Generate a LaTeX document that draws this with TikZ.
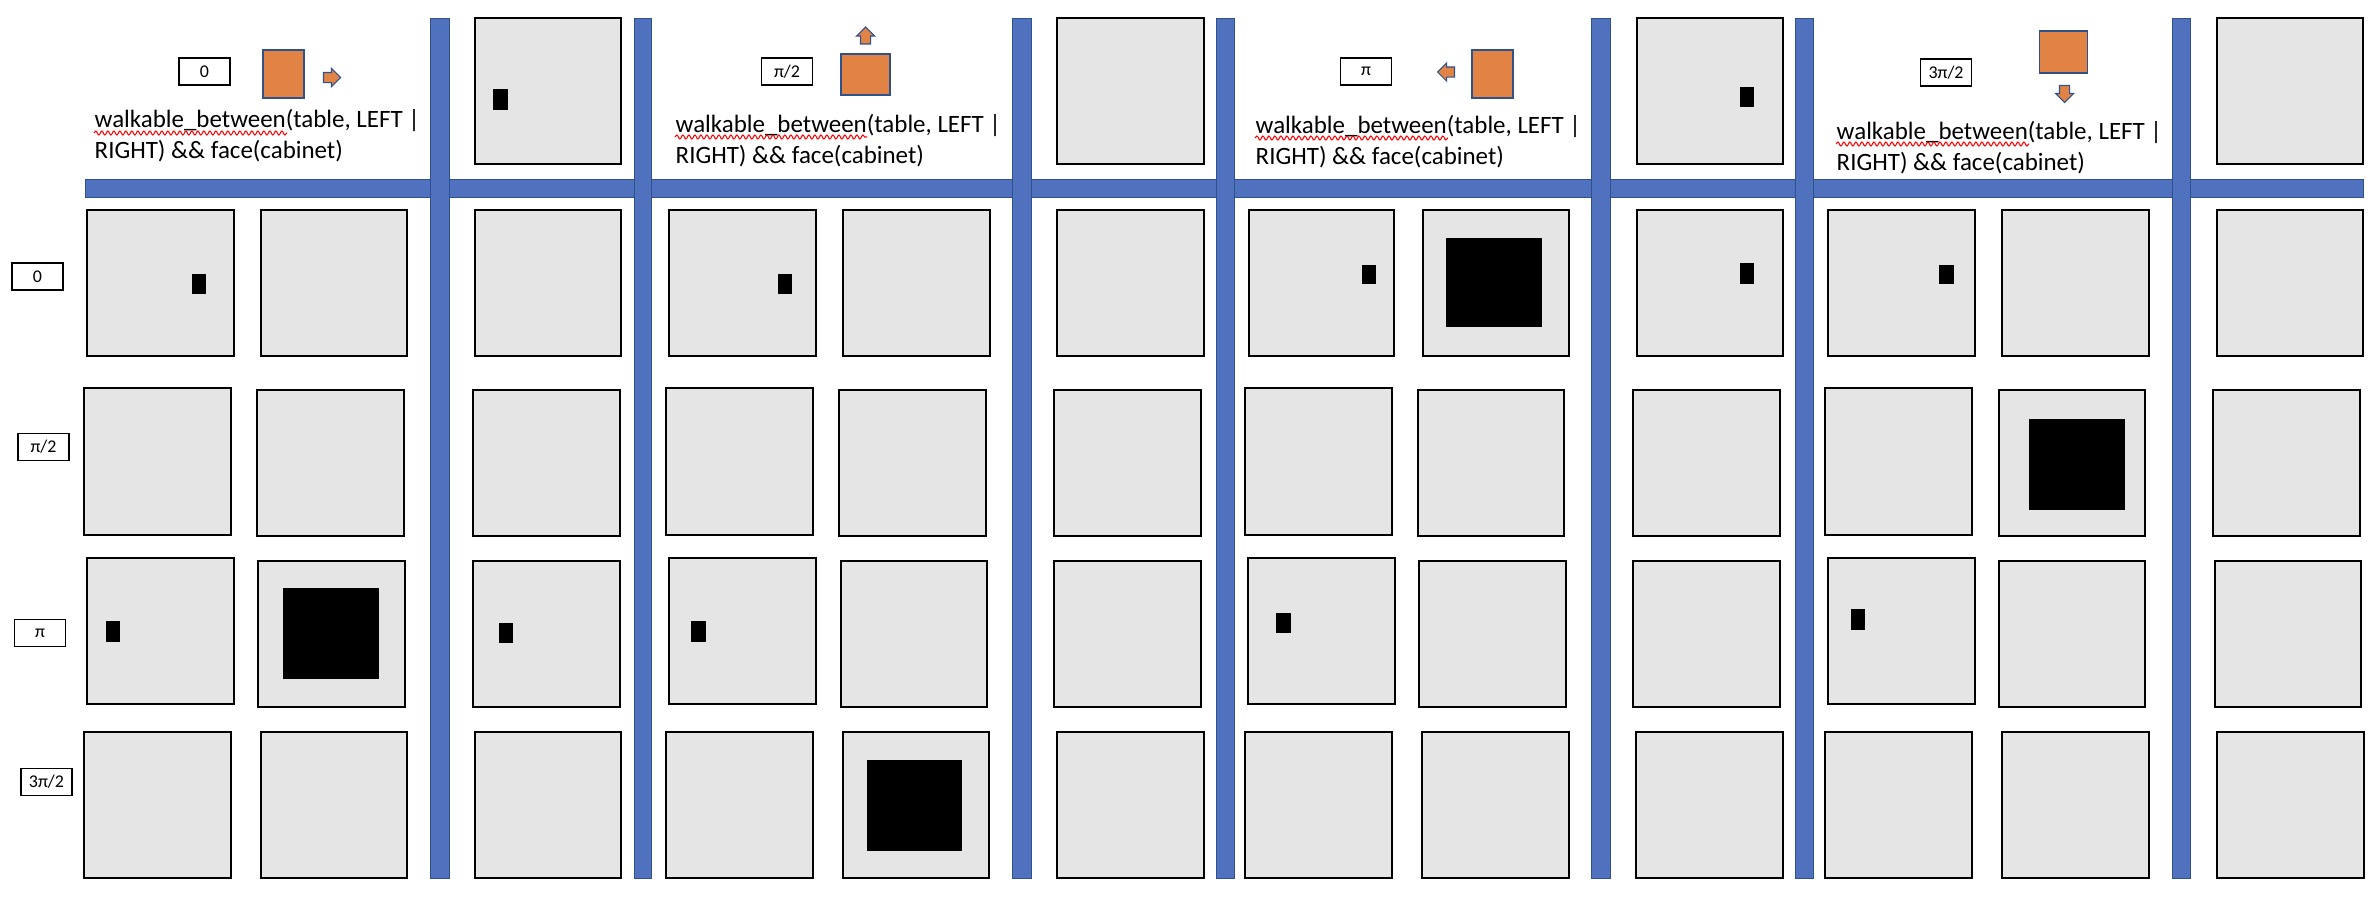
\documentclass[tikz,border=0pt]{standalone}
\usepackage{fontspec}
\setmainfont{Carlito}
\usetikzlibrary{shapes.arrows}
\usetikzlibrary{decorations.pathmorphing}
\definecolor{barblue}{RGB}{80,114,190}
\definecolor{barline}{RGB}{47,82,143}
\definecolor{robotorange}{RGB}{224,131,69}
\tikzset{
  cell/.style={fill=gray!20,draw=black,line width=0.35pt},
  obst/.style={fill=black,draw=none},
  wall/.style={fill=barblue,draw=barline,line width=0.2pt},
  robot/.style={fill=robotorange,draw=barline,line width=0.3pt},
  dirarrow/.style={single arrow,fill=robotorange,draw=barline,line width=0.3pt,inner sep=0.045cm,outer sep=0pt,minimum height=0.17cm,minimum width=0.17cm,single arrow head extend=0.04cm},
  anglabel/.style={draw=black,fill=white,line width=0.35pt,inner sep=0pt,minimum width=0.51cm,minimum height=0.27cm,font=\fontsize{5.1}{6}\selectfont},
  cond/.style={anchor=base west,align=left,inner sep=0pt,font=\fontsize{7.1}{8.54}\selectfont},
  squiggle/.style={draw=red,line width=0.3pt,decorate,decoration={snake,amplitude=0.2mm,segment length=0.6mm}}
}
\begin{document}
\begin{tikzpicture}
\draw[fill=white,draw=none] (0,0) rectangle (23.76,9.02);

\draw[wall] (0.85,7.05) rectangle (23.63,7.23);
\draw[wall] (4.30,0.24) rectangle (4.49,8.84);
\draw[wall] (6.34,0.24) rectangle (6.51,8.84);
\draw[wall] (10.12,0.24) rectangle (10.31,8.84);
\draw[wall] (12.16,0.24) rectangle (12.34,8.84);
\draw[wall] (15.91,0.24) rectangle (16.10,8.84);
\draw[wall] (17.95,0.24) rectangle (18.13,8.84);
\draw[wall] (21.72,0.24) rectangle (21.90,8.84);

\draw[cell] (4.75,7.38) rectangle (6.21,8.84);
\draw[obst] (4.93,7.92) rectangle (5.08,8.13);
\draw[cell] (10.57,7.38) rectangle (12.04,8.84);
\draw[cell] (16.37,7.38) rectangle (17.83,8.84);
\draw[obst] (17.40,7.95) rectangle (17.54,8.15);
\draw[cell] (22.17,7.38) rectangle (23.63,8.84);

\draw[cell] (0.87,5.46) rectangle (2.34,6.92);
\draw[obst] (1.92,6.08) rectangle (2.06,6.28);
\draw[cell] (2.61,5.46) rectangle (4.07,6.92);
\draw[cell] (4.75,5.46) rectangle (6.21,6.92);
\draw[cell] (6.69,5.46) rectangle (8.16,6.92);
\draw[obst] (7.78,6.08) rectangle (7.92,6.28);
\draw[cell] (8.43,5.46) rectangle (9.90,6.92);
\draw[cell] (10.57,5.46) rectangle (12.04,6.92);
\draw[cell] (12.49,5.46) rectangle (13.94,6.92);
\draw[obst] (13.62,6.18) rectangle (13.76,6.37);
\draw[cell] (14.23,5.46) rectangle (15.69,6.92);
\draw[obst] (14.46,5.75) rectangle (15.42,6.64);
\draw[cell] (16.37,5.46) rectangle (17.83,6.92);
\draw[obst] (17.40,6.18) rectangle (17.54,6.39);
\draw[cell] (18.28,5.46) rectangle (19.75,6.92);
\draw[obst] (19.39,6.18) rectangle (19.54,6.37);
\draw[cell] (20.02,5.46) rectangle (21.49,6.92);
\draw[cell] (22.17,5.46) rectangle (23.63,6.92);

\draw[cell] (0.84,3.67) rectangle (2.31,5.14);
\draw[cell] (2.57,3.66) rectangle (4.04,5.12);
\draw[cell] (4.73,3.66) rectangle (6.20,5.12);
\draw[cell] (6.66,3.67) rectangle (8.13,5.14);
\draw[cell] (8.39,3.66) rectangle (9.86,5.12);
\draw[cell] (10.54,3.66) rectangle (12.01,5.12);
\draw[cell] (12.45,3.67) rectangle (13.92,5.14);
\draw[cell] (14.18,3.66) rectangle (15.64,5.12);
\draw[cell] (16.33,3.66) rectangle (17.80,5.12);
\draw[cell] (18.25,3.67) rectangle (19.72,5.14);
\draw[cell] (19.99,3.66) rectangle (21.45,5.12);
\draw[obst] (20.29,3.92) rectangle (21.25,4.83);
\draw[cell] (22.13,3.66) rectangle (23.60,5.12);

\draw[cell] (0.87,1.98) rectangle (2.34,3.44);
\draw[obst] (1.06,2.60) rectangle (1.20,2.81);
\draw[cell] (2.58,1.95) rectangle (4.05,3.41);
\draw[obst] (2.83,2.23) rectangle (3.79,3.14);
\draw[cell] (4.73,1.95) rectangle (6.20,3.41);
\draw[obst] (4.99,2.59) rectangle (5.13,2.79);
\draw[cell] (6.69,1.98) rectangle (8.16,3.44);
\draw[obst] (6.91,2.60) rectangle (7.06,2.81);
\draw[cell] (8.41,1.95) rectangle (9.87,3.41);
\draw[cell] (10.54,1.95) rectangle (12.01,3.41);
\draw[cell] (12.48,1.98) rectangle (13.95,3.44);
\draw[obst] (12.76,2.69) rectangle (12.91,2.89);
\draw[cell] (14.19,1.95) rectangle (15.66,3.41);
\draw[cell] (16.33,1.95) rectangle (17.80,3.41);
\draw[cell] (18.28,1.98) rectangle (19.75,3.44);
\draw[obst] (18.51,2.72) rectangle (18.65,2.93);
\draw[cell] (19.99,1.95) rectangle (21.45,3.41);
\draw[cell] (22.15,1.95) rectangle (23.61,3.41);

\draw[cell] (0.84,0.24) rectangle (2.31,1.70);
\draw[cell] (2.61,0.24) rectangle (4.07,1.70);
\draw[cell] (4.75,0.24) rectangle (6.21,1.70);
\draw[cell] (6.66,0.24) rectangle (8.13,1.70);
\draw[cell] (8.43,0.24) rectangle (9.89,1.70);
\draw[obst] (8.67,0.51) rectangle (9.62,1.42);
\draw[cell] (10.57,0.24) rectangle (12.04,1.70);
\draw[cell] (12.45,0.24) rectangle (13.92,1.70);
\draw[cell] (14.22,0.24) rectangle (15.69,1.70);
\draw[cell] (16.36,0.24) rectangle (17.83,1.70);
\draw[cell] (18.25,0.24) rectangle (19.72,1.70);
\draw[cell] (20.02,0.24) rectangle (21.49,1.70);
\draw[cell] (22.17,0.24) rectangle (23.64,1.70);

\node[anglabel] (r0) at (0.375,6.255) {0};
\node[anglabel] (r1) at (0.435,4.55) {π/2};
\node[anglabel] (r2) at (0.40,2.69) {π};
\node[anglabel] (r3) at (0.465,1.20) {3π/2};

\node[anglabel] (h0) at (2.045,8.305) {0};
\draw[robot] (2.63,8.04) rectangle (3.04,8.52);
\node[dirarrow] (a0) at (3.295,8.245) {};
\node[cond] (c0) at (0.94,7.44) {walkable\_between(table, LEFT |\\RIGHT) \&\& face(cabinet)};
\draw[squiggle] (0.94,7.69) -- (2.87,7.69);

\node[anglabel] (h1) at (7.87,8.305) {π/2};
\draw[robot] (8.41,8.07) rectangle (8.90,8.48);
\node[dirarrow,shape border rotate=90] (a1) at (8.655,8.64) {};
\node[cond] (c1) at (6.75,7.39) {walkable\_between(table, LEFT |\\RIGHT) \&\& face(cabinet)};
\draw[squiggle] (6.75,7.65) -- (8.67,7.65);

\node[anglabel] (h2) at (13.66,8.305) {π};
\draw[robot] (14.72,8.04) rectangle (15.13,8.52);
\node[dirarrow,shape border rotate=180] (a2) at (14.485,8.30) {};
\node[cond] (c2) at (12.55,7.38) {walkable\_between(table, LEFT |\\RIGHT) \&\& face(cabinet)};
\draw[squiggle] (12.55,7.64) -- (14.48,7.64);

\node[anglabel] (h3) at (19.46,8.295) {3π/2};
\draw[robot] (20.39,8.29) rectangle (20.87,8.71);
\node[dirarrow,shape border rotate=270] (a3) at (20.645,8.105) {};
\node[cond] (c3) at (18.36,7.32) {walkable\_between(table, LEFT |\\RIGHT) \&\& face(cabinet)};
\draw[squiggle] (18.36,7.58) -- (20.29,7.58);

\end{tikzpicture}
\end{document}
